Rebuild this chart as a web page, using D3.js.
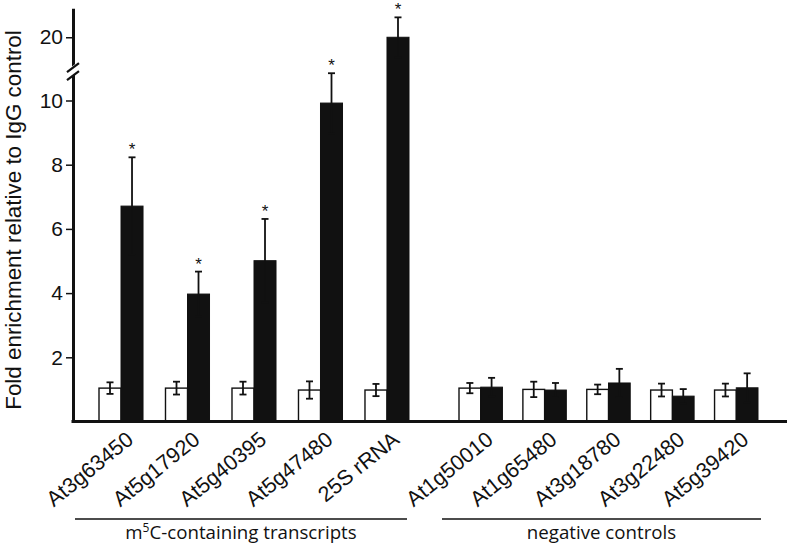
<!DOCTYPE html>
<html><head><meta charset="utf-8">
<script src="https://cdn.jsdelivr.net/npm/d3@7/dist/d3.min.js"></script>
<style>body{margin:0;background:#fff}svg{display:block}</style></head>
<body>
<svg id="chart" width="789" height="546"></svg>
<script>
// ---- data ----
const groupA = ["At3g63450","At5g17920","At5g40395","At5g47480","25S rRNA"];
const groupB = ["At1g50010","At1g65480","At3g18780","At3g22480","At5g39420"];
const whiteMean = [1.04,1.04,1.04,0.98,0.98, 1.04,1.00,1.00,0.98,0.98];
const whiteErr  = [0.18,0.20,0.20,0.27,0.19, 0.16,0.24,0.15,0.20,0.20];
const blackMean = [6.71,3.97,5.01,9.92,20.0, 1.07,0.98,1.20,0.79,1.05];
const blackErr  = [1.52,0.70,1.30,0.95,0.62, 0.29,0.22,0.44,0.22,0.45];
const significant = [1,1,1,1,1, 0,0,0,0,0];
const yTicks = [2,4,6,8,10,20];
const groupTitles = ["containing transcripts","negative controls"];
const yTitle = "Fold enrichment relative to IgG control";

// ---- layout ----
const svg = d3.select("#chart");
const unit = 32.1, y0 = 421.5;
const breakLo = 10.85, breakHi = 18.88, yTop = 20.9;
const y = d3.scaleLinear()
  .domain([0, breakLo, breakHi, yTop])
  .range([y0, y0 - breakLo*unit, y0 - breakLo*unit, y0 - breakLo*unit - (yTop-breakHi)*unit]);
const yBreak = y(breakLo);
const xA = d3.scaleBand().domain(groupA).range([99, 409]).paddingInner(0.338).paddingOuter(0);
const xB = d3.scaleBand().domain(groupB).range([459, 758]).paddingInner(0.32).paddingOuter(0);
const axisX = 73;
const sans = "'Liberation Sans', Arial, Helvetica, sans-serif";

const cats = groupA.concat(groupB);
const data = cats.map((c,i)=>({
  cat:c, grp: i<groupA.length?0:1,
  wm:whiteMean[i], we:whiteErr[i], bm:blackMean[i], be:blackErr[i], sig:significant[i]
}));
const xs = d => d.grp===0 ? xA(d.cat) : xB(d.cat);
const bw = d => (d.grp===0 ? xA.bandwidth() : xB.bandwidth())/2;

const ink = "#111";
// bars
const g = svg.append("g");
g.selectAll("rect.w").data(data).join("rect")
  .attr("x", d=>xs(d)).attr("width", d=>bw(d))
  .attr("y", d=>y(d.wm)).attr("height", d=>y0-y(d.wm))
  .attr("fill","#fff").attr("stroke",ink).attr("stroke-width",1.4);
g.selectAll("rect.b").data(data).join("rect")
  .attr("x", d=>xs(d)+bw(d)).attr("width", d=>bw(d))
  .attr("y", d=>y(d.bm)).attr("height", d=>y0-y(d.bm))
  .attr("fill",ink).attr("stroke",ink).attr("stroke-width",1);

// error bars
function errBar(cx, m, e){
  const top = y(m+e), bot = y(Math.max(0, m-e));
  g.append("line").attr("x1",cx).attr("x2",cx).attr("y1",top).attr("y2",bot)
    .attr("stroke",ink).attr("stroke-width",1.8);
  [top,bot].forEach(yy=>g.append("line").attr("x1",cx-3.5).attr("x2",cx+3.5)
    .attr("y1",yy).attr("y2",yy).attr("stroke",ink).attr("stroke-width",1.8));
}
data.forEach(d=>{
  errBar(xs(d)+bw(d)/2, d.wm, d.we);
  errBar(xs(d)+bw(d)*1.5, d.bm, d.be);
  if(d.sig){
    g.append("text").attr("x", xs(d)+bw(d)*1.5).attr("y", y(d.bm+d.be)-2)
      .attr("text-anchor","middle").attr("font-family",sans)
      .attr("font-size",17).attr("fill",ink).text("*");
  }
});

// y axis
const ax = svg.append("g").attr("transform",`translate(${axisX},0)`)
  .call(d3.axisLeft(y).tickValues(yTicks).tickSize(7).tickSizeOuter(0).tickPadding(3).tickFormat(d3.format("d")));
ax.select(".domain").attr("stroke",ink).attr("stroke-width",3);
ax.selectAll(".tick line").attr("stroke",ink).attr("stroke-width",1.5);
ax.selectAll(".tick text").attr("font-family",sans)
  .attr("font-size",21).attr("fill",ink);

// axis break
const bg = svg.append("g").attr("transform",`translate(${axisX},${yBreak})`);
bg.append("polygon").attr("points","-7,-2 7,-13 7,-3 -7,8").attr("fill","#fff");
bg.append("line").attr("x1",-6).attr("y1",-1).attr("x2",6).attr("y2",-10).attr("stroke",ink).attr("stroke-width",2.2);
bg.append("line").attr("x1",-6).attr("y1",7).attr("x2",6).attr("y2",-2).attr("stroke",ink).attr("stroke-width",2.2);

// x axis line
svg.append("line").attr("x1",axisX-1.5).attr("x2",787).attr("y1",y0).attr("y2",y0)
  .attr("stroke",ink).attr("stroke-width",3);

// category labels
svg.selectAll("text.cat").data(data).join("text")
  .attr("transform", d=>`translate(${xs(d)+bw(d)+13.7},${y0+20.5}) rotate(-39)`)
  .attr("text-anchor","end")
  .attr("font-family",sans).attr("font-size",21.5).attr("fill",ink)
  .text(d=>d.cat);

// group brackets
const grpLines = [[75,407],[442,761]];
grpLines.forEach((r,i)=>{
  svg.append("line").attr("x1",r[0]).attr("x2",r[1]).attr("y1",519).attr("y2",519)
    .attr("stroke",ink).attr("stroke-width",1.5);
  const t = svg.append("text").attr("x",(r[0]+r[1])/2).attr("y",539).attr("text-anchor","middle")
    .attr("font-family","'Open Sans', 'Noto Sans', sans-serif").attr("font-size",18.7).attr("fill",ink);
  if(i===0){
    t.append("tspan").text("m");
    t.append("tspan").attr("font-size",12).attr("dy",-7).text("5");
    t.append("tspan").attr("dy",7).text("C-"+groupTitles[0]);
  } else t.text(groupTitles[1]);
});

// y title
svg.append("text").attr("transform","translate(21,220) rotate(-90)").attr("text-anchor","middle")
  .attr("font-family",sans).attr("font-size",22.4).attr("fill",ink)
  .text(yTitle);
</script>
</body></html>
